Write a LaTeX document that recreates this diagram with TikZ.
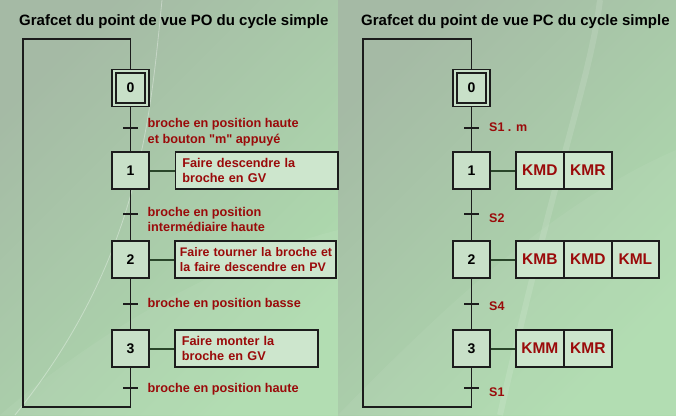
\documentclass[tikz,border=0pt]{standalone}
\usepackage{fontspec}
\setmainfont{Liberation Sans}[Ligatures=TeXOff]
\definecolor{bgA}{HTML}{A5BAA5}
\definecolor{bgB}{HTML}{AEDCAE}
\definecolor{stepfill}{HTML}{C8E0C8}
\definecolor{actfill}{HTML}{CDE6CD}
\definecolor{textred}{HTML}{9A0A0A}
\definecolor{linedark}{HTML}{1C1C1C}
\definecolor{actline}{HTML}{2A462A}
\begin{document}
\begin{tikzpicture}[x=1pt,y=-1pt,
  stepbox/.style={draw=linedark, line width=1.7pt, fill=stepfill, minimum width=37pt, minimum height=37pt, inner sep=0pt, font=\fontsize{14}{16}\selectfont\bfseries},
  innerbox/.style={draw=linedark, line width=1.6pt, minimum width=29pt, minimum height=30pt, inner sep=0pt},
  actbox/.style={draw=linedark, line width=1.7pt, fill=actfill, anchor=west, minimum height=37pt, inner xsep=7pt, inner ysep=0pt, align=left, text=textred, font=\fontsize{12.7}{15.8}\selectfont\bfseries},
  cellbox/.style={draw=linedark, line width=1.7pt, fill=actfill, anchor=west, minimum height=37pt, inner sep=0pt, text=textred, font=\fontsize{15.5}{17}\selectfont\bfseries},
  flow/.style={draw=linedark, line width=1.6pt},
  actlink/.style={draw=actline, line width=2pt},
  tick/.style={draw=linedark, line width=1.6pt},
  tlabel/.style={anchor=north west, inner sep=0pt, align=left, text=textred, font=\fontsize{12.7}{15.5}\selectfont\bfseries},
  slabel/.style={anchor=west, inner sep=0pt, text=textred, font=\fontsize{12.5}{14}\selectfont\bfseries},
  title/.style={anchor=west, inner sep=0pt, font=\fontsize{15}{17}\selectfont\bfseries}
]
\useasboundingbox (0,0) rectangle (676,415);
% background panels
\shade[top color=bgA, bottom color=bgB, shading angle=45] (0,0) rectangle (338,415);
\shade[top color=bgA, bottom color=bgB, shading angle=45] (338,0) rectangle (676,415);
\begin{scope}
\clip (0,0) rectangle (676,415);
\draw[white, opacity=0.35, line width=0.8pt] (162,0) .. controls (150,120) and (140,260) .. (15,415);
\fill[white, opacity=0.05] (338,415) .. controls (450,300) and (560,200) .. (676,150) -- (676,415) -- cycle;
\fill[white, opacity=0.05] (0,415) .. controls (100,330) and (220,260) .. (338,230) -- (338,415) -- cycle;
\draw[white, opacity=0.12, line width=6pt] (600,0) .. controls (590,80) and (560,150) .. (500,415);
\end{scope}

% ---------------- Left grafcet ----------------
\node[title] (t1) at (19,22) {Grafcet du point de vue PO du cycle simple};
\node[stepbox] (l0) at (130.5,88) {0};
\node[innerbox] (l0i) at (130.5,88) {};
\node[stepbox] (l1) at (130.5,170.5) {1};
\node[stepbox] (l2) at (130.5,259.5) {2};
\node[stepbox] (l3) at (130.5,348.5) {3};
\coordinate (lt0) at (130.5,128);
\coordinate (lt1) at (130.5,214);
\coordinate (lt2) at (130.5,304);
\coordinate (lt3) at (130.5,388);
\coordinate (lbl) at (23,407);
\coordinate (ltop) at (130.5,39);
\draw[flow] (l0) -- (l1);
\draw[flow] (l1) -- (l2);
\draw[flow] (l2) -- (l3);
\draw[flow] (l3.south) |- (lbl) |- (ltop) -- (l0.north);
\foreach \t in {lt0,lt1,lt2,lt3} \draw[tick] (\t) +(-7.5,0) -- +(7.5,0);
\node[tlabel] (ll0) at (147.5,118.5) {broche en position haute\\et bouton "m" appuyé};
\node[tlabel] (ll1) at (147.5,207) {broche en position\\intermédiaire haute};
\node[slabel, font=\fontsize{12.7}{14}\selectfont\bfseries] (ll2) at (147.5,304) {broche en position basse};
\node[slabel, font=\fontsize{12.7}{14}\selectfont\bfseries] (ll3) at (147.5,389) {broche en position haute};
\node[actbox, minimum width=162.5pt, text width=148.5pt] (la1) at (174.5,170.5) {Faire descendre la\\broche en GV};
\node[actbox, minimum width=161pt, text width=157pt, inner xsep=2pt, font=\fontsize{12.4}{15.8}\selectfont\bfseries] (la2) at (174,259.5) {\hspace*{3pt}Faire tourner la broche et\\\hspace*{3pt}la faire descendre en PV};
\node[actbox, minimum width=143pt, text width=129pt] (la3) at (174,348.5) {Faire monter la\\broche en GV};
\draw[actlink] (l1.east) -- (la1.west);
\draw[actlink] (l2.east) -- (la2.west);
\draw[actlink] (l3.east) -- (la3.west);

% ---------------- Right grafcet ----------------
\node[title] (t2) at (361,22) {Grafcet du point de vue PC du cycle simple};
\node[stepbox] (r0) at (471.5,88) {0};
\node[innerbox] (r0i) at (471.5,88) {};
\node[stepbox] (r1) at (471.5,170.5) {1};
\node[stepbox] (r2) at (471.5,259.5) {2};
\node[stepbox] (r3) at (471.5,348.5) {3};
\coordinate (rt0) at (471.5,128);
\coordinate (rt1) at (471.5,214);
\coordinate (rt2) at (471.5,304);
\coordinate (rt3) at (471.5,388);
\coordinate (rbl) at (363,407);
\coordinate (rtop) at (471.5,39);
\draw[flow] (r0) -- (r1);
\draw[flow] (r1) -- (r2);
\draw[flow] (r2) -- (r3);
\draw[flow] (r3.south) |- (rbl) |- (rtop) -- (r0.north);
\foreach \t in {rt0,rt1,rt2,rt3} \draw[tick] (\t) +(-7.5,0) -- +(7.5,0);
\node[slabel] (rl0) at (489,127) {S1 . m};
\node[slabel] (rl1) at (489,218) {S2};
\node[slabel] (rl2) at (489,306) {S4};
\node[slabel] (rl3) at (489,392) {S1};
\node[cellbox, minimum width=48pt] (c11) at (515,170.5) {KMD};
\node[cellbox, minimum width=48pt] (c12) at (563,170.5) {KMR};
\node[cellbox, minimum width=48pt] (c21) at (515,259.5) {KMB};
\node[cellbox, minimum width=48pt] (c22) at (563,259.5) {KMD};
\node[cellbox, minimum width=47pt] (c23) at (611,259.5) {KML};
\node[cellbox, minimum width=48pt] (c31) at (515,348.5) {KMM};
\node[cellbox, minimum width=48pt] (c32) at (563,348.5) {KMR};
\draw[actlink] (r1.east) -- (c11.west);
\draw[actlink] (r2.east) -- (c21.west);
\draw[actlink] (r3.east) -- (c31.west);
\end{tikzpicture}
\end{document}
